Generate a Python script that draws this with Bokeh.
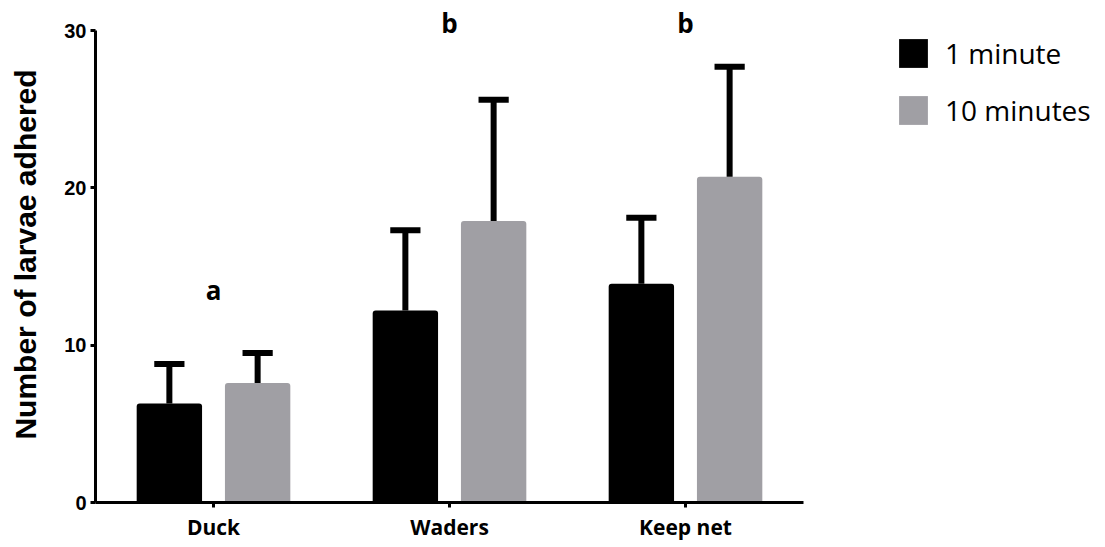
from bokeh.plotting import figure
from bokeh.models import (ColumnDataSource, Range1d, FixedTicker,
                          Legend, LegendItem)
from bokeh.transform import dodge
from bokeh.core.properties import value
from bokeh.embed import file_html
from bokeh.resources import INLINE

# ---- data ----
categories = ["Duck", "Waders", "Keep net"]
series_names = ["1 minute", "10 minutes"]
mean_1min = [6.3, 12.2, 13.9]
sd_1min = [2.5, 5.1, 4.2]
mean_10min = [7.6, 17.9, 20.7]
sd_10min = [1.9, 7.7, 7.0]
letters = ["a", "b", "b"]
y_ticks = [0, 10, 20, 30]

# ---- layout constants ----
letter_y = [13.5, 30.5, 30.5]
offset = 0.187
bar_w = 0.277
cap_half = 0.064
colors = ["#000000", "#a09fa4"]

xc = [i + 0.5 for i in range(len(categories))]
src1 = ColumnDataSource(dict(x=xc, top=mean_1min,
                             err=[m + s for m, s in zip(mean_1min, sd_1min)]))
src2 = ColumnDataSource(dict(x=xc, top=mean_10min,
                             err=[m + s for m, s in zip(mean_10min, sd_10min)]))
lsrc = ColumnDataSource(dict(x=xc, ly=letter_y, letter=letters))

p = figure(width=1105, height=547, x_range=Range1d(0, 1010 / 236),
           y_range=Range1d(0, 31.53), output_backend="svg", toolbar_location=None,
           min_border_left=95, min_border_right=0, min_border_top=6,
           min_border_bottom=45)
p.outline_line_color = None
p.xgrid.visible = False
p.ygrid.visible = False
p.background_fill_color = "white"
p.border_fill_color = "white"

renderers = []
for src, off, col in [(src1, -offset, colors[0]), (src2, offset, colors[1])]:
    r = p.vbar(x=dodge("x", off), top="top", bottom=0,
               width=bar_w, fill_color=col, line_color=None,
               border_radius=(3, 3, 0, 0), source=src)
    renderers.append(r)
    p.segment(x0=dodge("x", off), y0="top",
              x1=dodge("x", off), y1="err",
              source=src, line_color="black", line_width=6, line_cap="butt")
    p.segment(x0=dodge("x", off - cap_half), y0="err",
              x1=dodge("x", off + cap_half), y1="err",
              source=src, line_color="black", line_width=6, line_cap="butt")

p.text(x="x", y="ly", text="letter", source=lsrc,
       text_font=value("Open Sans"), text_font_style="bold",
       text_font_size="26px", text_align="center", text_baseline="middle",
       text_color="black")

# axes
ya = p.yaxis[0]
ya.ticker = FixedTicker(ticks=y_ticks)
ya.bounds = (0, 30)
ya.minor_tick_line_color = None
ya.major_tick_in = 0
ya.major_tick_out = 5
ya.major_tick_line_width = 3
ya.axis_line_width = 3
ya.major_label_text_font = "Liberation Sans"
ya.major_label_text_font_style = "bold"
ya.major_label_text_font_size = "20px"
ya.major_label_text_color = "black"
ya.major_label_standoff = 4
ya.axis_label = "Number of larvae adhered"
ya.axis_label_text_font = "Liberation Sans"
ya.axis_label_text_font_style = "bold"
ya.axis_label_text_font_size = "30px"
ya.axis_label_text_color = "black"
ya.axis_label_standoff = 19

xa = p.xaxis[0]
xa.ticker = FixedTicker(ticks=xc)
xa.major_label_overrides = {x: c for x, c in zip(xc, categories)}
xa.bounds = (0, len(categories))
xa.major_tick_in = 0
xa.major_tick_out = 5
xa.major_tick_line_width = 3
xa.axis_line_width = 3
xa.minor_tick_line_color = None
xa.major_label_text_font = "Open Sans"
xa.major_label_text_font_style = "bold"
xa.major_label_text_font_size = "21px"
xa.major_label_text_color = "black"
xa.major_label_standoff = 5

legend = Legend(items=[LegendItem(label=series_names[0], renderers=[renderers[0]]),
                       LegendItem(label=series_names[1], renderers=[renderers[1]])],
                location=(800, 373), glyph_width=36, glyph_height=36, spacing=19,
                label_standoff=14, padding=0, margin=0, border_line_color=None,
                background_fill_alpha=0, label_text_font="Open Sans",
                label_text_font_size="28px", label_height=36,
                label_text_baseline="middle", label_text_color="black")
p.add_layout(legend)

open("out.html", "w").write(file_html(p, INLINE))
